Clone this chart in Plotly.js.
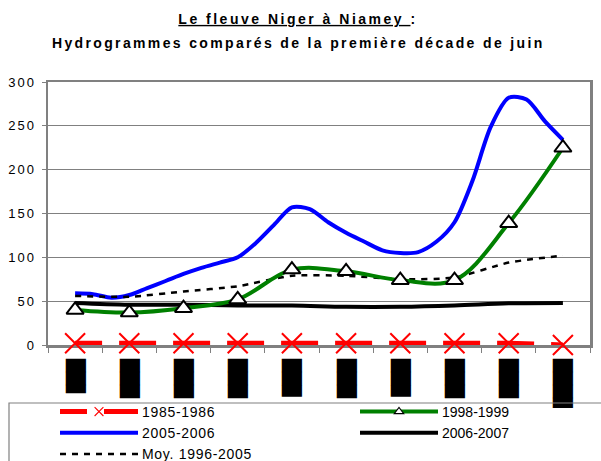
<!DOCTYPE html>
<html>
<head>
<meta charset="utf-8">
<script src="https://cdn.plot.ly/plotly-3.0.1.min.js"></script>
<style>
  body { margin: 0; background: #fff; }
  #chart { width: 601px; height: 461px; }
  .gtitle { letter-spacing: 2.5px; }
  .annotation-text { letter-spacing: 2.35px; }
  .ytick text { letter-spacing: 2px; }
  .legendtext { letter-spacing: 0.7px; }
  .legendlines path { d: path("M0,0h78"); }
  .legendpoints path.scatterpts { transform: translate(39px, 0px) scale(0.55); }
</style>
</head>
<body>
<div id="chart"></div>
<script>
// Category positions (decades) and their tick labels (masked in the reference)
const categories = [0, 1, 2, 3, 4, 5, 6, 7, 8, 9];
const tickLabels = ["██▋", "███", "███", "███", "██▉", "███", "██▉", "███", "███", "███▊"];

// Finer positions (thirds of a category) used for the 2005-2006 curve
const xFine = [0, 0.33, 0.67, 1, 1.33, 1.67, 2, 2.33, 2.67, 3, 3.33, 3.67, 4, 4.33, 4.67,
               5, 5.33, 5.67, 6, 6.33, 6.67, 7, 7.33, 7.67, 8, 8.33, 8.67, 9];

// Series values (m3/s)
const s1985 = [2, 2, 2, 2, 2, 2, 2, 2, 2, 0];
const s1998 = [40, 37, 42, 52, 86, 84, 74, 74, 139, 225];
const s2005 = [59, 58, 54, 57, 65, 73, 81, 88, 94, 100, 116, 137, 157, 155, 140,
               128, 118, 108, 105, 106, 118, 140, 187, 249, 282, 280, 255, 234];
const s2006 = [48, 46, 46, 45, 45, 43.5, 43.5, 45, 47.5, 48];
const sMoy  = [56, 55, 61, 67, 79, 79, 75, 77, 94, 102];

const names = ["1985-1986", "1998-1999", "2005-2006", "2006-2007", "Moy. 1996-2005"];

const tRed = {
  x: categories, y: s1985, name: names[0], type: "scatter", mode: "lines+markers",
  cliponaxis: false, legend: "legend", legendrank: 1,
  line: { color: "#FF0000", width: 5, dash: "27px,17px,37px,17px,37px,17px,37px,17px,37px,17px,37px,17px,37px,17px,37px,17px,37px,17px,37px,17px" },
  marker: { symbol: "x-thin-open", size: 20, color: "#FF0000", line: { color: "#FF0000", width: 2 } }
};
const tGreen = {
  x: categories, y: s1998, name: names[1], type: "scatter", mode: "lines+markers",
  cliponaxis: false, legend: "legend2", legendrank: 1,
  line: { color: "#008000", width: 4, shape: "spline", smoothing: 1 },
  marker: { symbol: "triangle-up", size: 15, color: "#FFFFFF", line: { color: "#000000", width: 2 } }
};
const tBlue = {
  x: xFine, y: s2005, name: names[2], type: "scatter", mode: "lines",
  legend: "legend", legendrank: 2,
  line: { color: "#0000FF", width: 4, shape: "spline", smoothing: 0.8 }
};
const tBlack = {
  x: categories, y: s2006, name: names[3], type: "scatter", mode: "lines",
  legend: "legend2", legendrank: 2,
  line: { color: "#000000", width: 4, shape: "spline", smoothing: 1 }
};
const tMoy = {
  x: categories, y: sMoy, name: names[4], type: "scatter", mode: "lines",
  legend: "legend", legendrank: 3,
  line: { color: "#000000", width: 2.5, dash: "6px,6px", shape: "spline", smoothing: 0.6 }
};

const fontFam = "Liberation Sans, Arial, sans-serif";
const legendCommon = {
  orientation: "v", xanchor: "left", yanchor: "top",
  bgcolor: "rgba(0,0,0,0)", borderwidth: 0,
  font: { family: fontFam, size: 14, color: "#000000" },
  itemwidth: 72, traceorder: "normal", itemclick: false, itemdoubleclick: false
};

const layout = {
  width: 601, height: 461,
  margin: { l: 48, r: 11, t: 82, b: 116, autoexpand: false },
  paper_bgcolor: "#FFFFFF", plot_bgcolor: "#FFFFFF",
  font: { family: fontFam, size: 13, color: "#000000" },
  title: {
    text: "<u>Le fleuve Niger à Niamey </u>:",
    font: { family: fontFam, size: 14, weight: "bold", color: "#000000" },
    x: 298 / 601, xanchor: "center", xref: "container",
    y: 1 - 19 / 461, yref: "container", yanchor: "middle"
  },
  annotations: [{
    text: "Hydrogrammes comparés de la première décade de juin",
    xref: "paper", yref: "paper", x: (298 - 48) / 542, y: 1 + (82 - 43) / 263,
    xanchor: "center", yanchor: "middle", showarrow: false,
    font: { family: fontFam, size: 14, weight: "bold", color: "#000000" }
  }],
  shapes: [{
    type: "rect", xref: "paper", yref: "paper", layer: "above",
    x0: (9 - 48) / 542, x1: (640 - 48) / 542,
    y0: (345 - 403) / 263, y1: (345 - 480) / 263,
    line: { color: "#808080", width: 1.2 }, fillcolor: "rgba(0,0,0,0)"
  }],
  xaxis: {
    range: [-0.5, 9.5], fixedrange: true,
    tickmode: "array", tickvals: categories, ticktext: tickLabels,
    tickangle: 90, ticks: "", ticklabelstandoff: 8,
    tickfont: { family: "DejaVu Sans", size: 17, color: "#000000" },
    showgrid: false, zeroline: false,
    showline: true, linecolor: "#808080", linewidth: 2.5, mirror: true,
    minor: { tick0: -0.5, dtick: 1, ticks: "outside", ticklen: 5, tickcolor: "#808080", tickwidth: 1, showgrid: false },
    layer: "below traces"
  },
  yaxis: {
    range: [0, 300], dtick: 50, fixedrange: true,
    ticks: "outside", ticklen: 4, tickcolor: "#808080", tickwidth: 1,
    ticklabelstandoff: 3,
    tickfont: { family: fontFam, size: 13, color: "#000000" },
    showgrid: true, gridcolor: "#808080", gridwidth: 1,
    zeroline: false,
    showline: true, linecolor: "#808080", linewidth: 2.5, mirror: true,
    layer: "below traces"
  },
  showlegend: true,
  legend: Object.assign({}, legendCommon, { x: (60 - 48) / 542, y: (345 - 396) / 263 }),
  legend2: Object.assign({}, legendCommon, { x: (360 - 48) / 542, y: (345 - 396) / 263 })
};

Plotly.newPlot("chart", [tBlue, tBlack, tMoy, tGreen, tRed], layout, { displayModeBar: false, staticPlot: true });
</script>
</body>
</html>
